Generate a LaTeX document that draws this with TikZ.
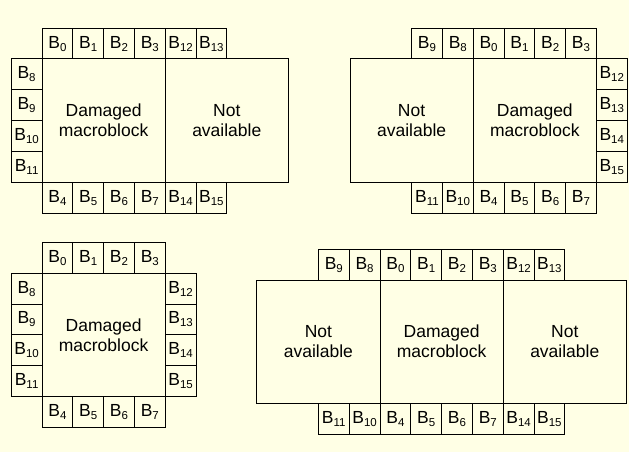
\documentclass[tikz,border=0pt]{standalone}
\usepackage{tikz}
\usepackage{fontspec}
\setmainfont{Liberation Sans}
\definecolor{paper}{RGB}{255,255,229}
\newcommand{\blk}[1]{B\raisebox{-3pt}{\fontsize{11.5}{11.5}\selectfont #1}}

\begin{document}
\begin{tikzpicture}[x=1pt,y=1pt]
\tikzstyle{every node}+=[inner sep=0pt, font=\fontsize{17.5}{20}\selectfont]
\tikzstyle{cell}=[draw=black, line width=1pt, minimum width=30.8, minimum height=30.8]
\tikzstyle{mb}=[draw=black, line width=1pt, minimum width=123.2, minimum height=123.2, align=center]
\fill [paper] (0,0) rectangle (629,-452);
\useasboundingbox (0,0) rectangle (629,-452);
% top left
\node [mb] (p1dmg) at (103.6,-120.6) {Damaged\\macroblock};
\node [mb] (p1na) at (226.8,-120.6) {Not\\available};
\node [cell] (p1b0) at (57.4,-43.6) {\blk{0}};
\node [cell] (p1b1) at (88.2,-43.6) {\blk{1}};
\node [cell] (p1b2) at (119,-43.6) {\blk{2}};
\node [cell] (p1b3) at (149.8,-43.6) {\blk{3}};
\node [cell] (p1b12) at (180.6,-43.6) {\blk{12}};
\node [cell] (p1b13) at (211.4,-43.6) {\blk{13}};
\node [cell] (p1b8) at (26.6,-74.4) {\blk{8}};
\node [cell] (p1b9) at (26.6,-105.2) {\blk{9}};
\node [cell] (p1b10) at (26.6,-136) {\blk{10}};
\node [cell] (p1b11) at (26.6,-166.8) {\blk{11}};
\node [cell] (p1b4) at (57.4,-197.6) {\blk{4}};
\node [cell] (p1b5) at (88.2,-197.6) {\blk{5}};
\node [cell] (p1b6) at (119,-197.6) {\blk{6}};
\node [cell] (p1b7) at (149.8,-197.6) {\blk{7}};
\node [cell] (p1b14) at (180.6,-197.6) {\blk{14}};
\node [cell] (p1b15) at (211.4,-197.6) {\blk{15}};
% top right
\node [mb] (p2na) at (411.6,-120.6) {Not\\available};
\node [mb] (p2dmg) at (534.8,-120.6) {Damaged\\macroblock};
\node [cell] (p2b9) at (427,-43.6) {\blk{9}};
\node [cell] (p2b8) at (457.8,-43.6) {\blk{8}};
\node [cell] (p2b0) at (488.6,-43.6) {\blk{0}};
\node [cell] (p2b1) at (519.4,-43.6) {\blk{1}};
\node [cell] (p2b2) at (550.2,-43.6) {\blk{2}};
\node [cell] (p2b3) at (581,-43.6) {\blk{3}};
\node [cell] (p2b12) at (611.8,-74.4) {\blk{12}};
\node [cell] (p2b13) at (611.8,-105.2) {\blk{13}};
\node [cell] (p2b14) at (611.8,-136) {\blk{14}};
\node [cell] (p2b15) at (611.8,-166.8) {\blk{15}};
\node [cell] (p2b11) at (427,-197.6) {\blk{11}};
\node [cell] (p2b10) at (457.8,-197.6) {\blk{10}};
\node [cell] (p2b4) at (488.6,-197.6) {\blk{4}};
\node [cell] (p2b5) at (519.4,-197.6) {\blk{5}};
\node [cell] (p2b6) at (550.2,-197.6) {\blk{6}};
\node [cell] (p2b7) at (581,-197.6) {\blk{7}};
% bottom left
\node [mb] (p3dmg) at (103.6,-334.9) {Damaged\\macroblock};
\node [cell] (p3b0) at (57.4,-257.9) {\blk{0}};
\node [cell] (p3b1) at (88.2,-257.9) {\blk{1}};
\node [cell] (p3b2) at (119,-257.9) {\blk{2}};
\node [cell] (p3b3) at (149.8,-257.9) {\blk{3}};
\node [cell] (p3b8) at (26.6,-288.7) {\blk{8}};
\node [cell] (p3b9) at (26.6,-319.5) {\blk{9}};
\node [cell] (p3b10) at (26.6,-350.3) {\blk{10}};
\node [cell] (p3b11) at (26.6,-381.1) {\blk{11}};
\node [cell] (p3b12) at (180.6,-288.7) {\blk{12}};
\node [cell] (p3b13) at (180.6,-319.5) {\blk{13}};
\node [cell] (p3b14) at (180.6,-350.3) {\blk{14}};
\node [cell] (p3b15) at (180.6,-381.1) {\blk{15}};
\node [cell] (p3b4) at (57.4,-411.9) {\blk{4}};
\node [cell] (p3b5) at (88.2,-411.9) {\blk{5}};
\node [cell] (p3b6) at (119,-411.9) {\blk{6}};
\node [cell] (p3b7) at (149.8,-411.9) {\blk{7}};
% bottom right
\node [mb] (p4nal) at (318.4,-341.6) {Not\\available};
\node [mb] (p4dmg) at (441.6,-341.6) {Damaged\\macroblock};
\node [mb] (p4nar) at (564.8,-341.6) {Not\\available};
\node [cell] (p4b9) at (333.8,-264.6) {\blk{9}};
\node [cell] (p4b8) at (364.6,-264.6) {\blk{8}};
\node [cell] (p4b0) at (395.4,-264.6) {\blk{0}};
\node [cell] (p4b1) at (426.2,-264.6) {\blk{1}};
\node [cell] (p4b2) at (457,-264.6) {\blk{2}};
\node [cell] (p4b3) at (487.8,-264.6) {\blk{3}};
\node [cell] (p4b12) at (518.6,-264.6) {\blk{12}};
\node [cell] (p4b13) at (549.4,-264.6) {\blk{13}};
\node [cell] (p4b11) at (333.8,-418.6) {\blk{11}};
\node [cell] (p4b10) at (364.6,-418.6) {\blk{10}};
\node [cell] (p4b4) at (395.4,-418.6) {\blk{4}};
\node [cell] (p4b5) at (426.2,-418.6) {\blk{5}};
\node [cell] (p4b6) at (457,-418.6) {\blk{6}};
\node [cell] (p4b7) at (487.8,-418.6) {\blk{7}};
\node [cell] (p4b14) at (518.6,-418.6) {\blk{14}};
\node [cell] (p4b15) at (549.4,-418.6) {\blk{15}};
\end{tikzpicture}
\end{document}
